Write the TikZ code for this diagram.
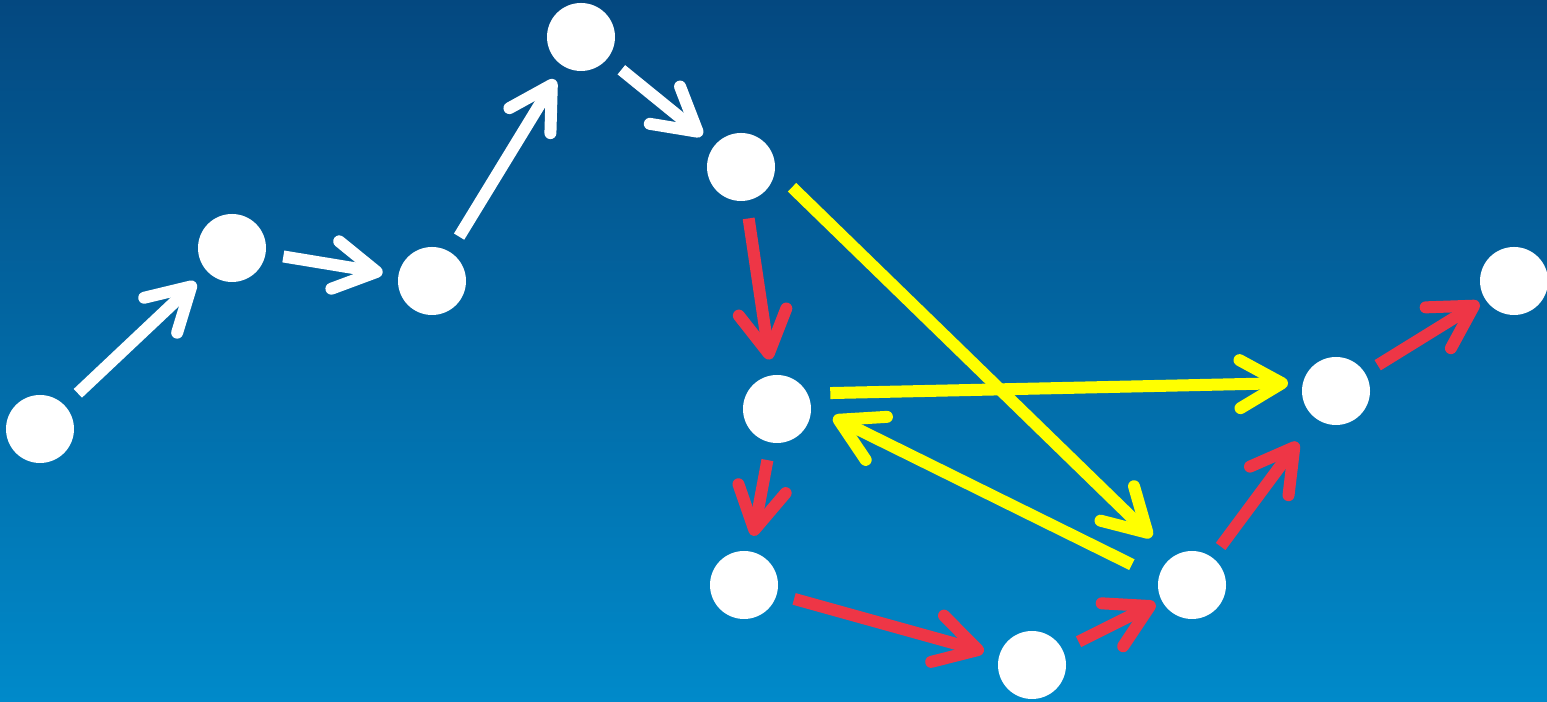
\documentclass[tikz,border=0pt]{standalone}
\usepackage{tikz}
\usepackage{tkz-graph}
\usetikzlibrary{arrows.meta}
\definecolor{bgtop}{RGB}{4,72,128}
\definecolor{bgbottom}{RGB}{0,138,202}
\definecolor{stepred}{RGB}{238,54,70}
\definecolor{jumpyellow}{RGB}{255,255,0}

\begin{document}
\begin{tikzpicture}[scale=1]
\GraphInit[vstyle=Normal]
\tikzset{VertexStyle/.style={shape=circle,fill=white,draw=none,minimum size=0.68cm,inner sep=0pt},
  EdgeStyle/.style={draw},
  walk/.style={line width=0.12cm,-{Straight Barb[length=4.2mm,width=4.8mm,round]},shorten <=0.18cm,shorten >=0.16cm}}
\useasboundingbox (0,0) rectangle (15.47,7.02);
\shade[top color=bgtop,bottom color=bgbottom] (0,0) rectangle (15.47,7.02);
% Left part of the walk
\Vertex[x=0.40,y=2.73,NoLabel]{A}
\Vertex[x=2.32,y=4.54,NoLabel]{B}
\Vertex[x=4.32,y=4.21,NoLabel]{C}
\Vertex[x=5.81,y=6.65,NoLabel]{D}
\Vertex[x=7.41,y=5.35,NoLabel]{E}
% Loop on the right
\Vertex[x=7.77,y=2.93,NoLabel]{F}
\Vertex[x=7.44,y=1.17,NoLabel]{G}
\Vertex[x=10.32,y=0.37,NoLabel]{H}
\Vertex[x=11.92,y=1.17,NoLabel]{I}
\Vertex[x=13.36,y=3.11,NoLabel]{J}
\Vertex[x=15.14,y=4.21,NoLabel]{K}

%%% Edges
\Edges[style={white,walk}](A,B,C,D,E)		% white steps
\Edges[style={stepred,walk}](E,F,G,H)		% red steps
\Edge[style={stepred,walk,shorten >=0.07cm}](H)(I)
\Edge[style={stepred,walk,shorten <=0.14cm,shorten >=0.30cm}](I)(J)
\Edge[style={stepred,walk,shorten <=0.15cm,shorten >=0.07cm}](J)(K)
% yellow jumps
\Edge[style={jumpyellow,walk,shorten <=0.24cm,shorten >=0.29cm}](E.-6)(I.125)
\Edge[style={jumpyellow,walk,shorten <=0.23cm,shorten >=0.15cm}](F.27)(J.166)
\Edge[style={jumpyellow,walk,shorten <=0.30cm,shorten >=0.25cm}](I.168)(F.5)
\end{tikzpicture}
\end{document}
